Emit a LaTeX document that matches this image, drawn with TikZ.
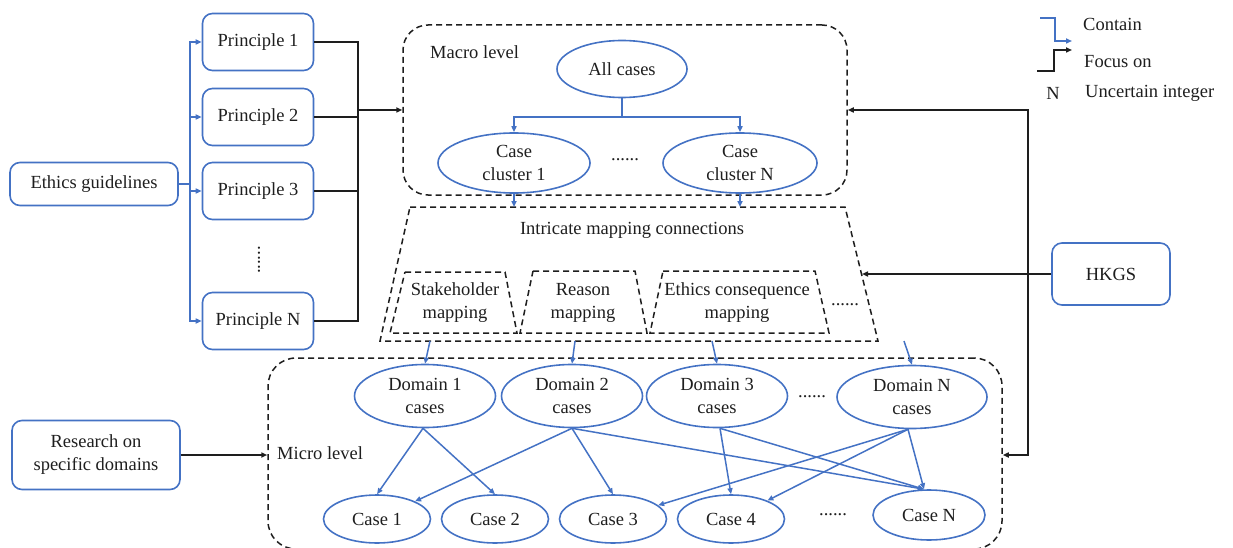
\documentclass[tikz,border=0pt]{standalone}
\usepackage{fontspec}
\setmainfont{Liberation Serif}
\usetikzlibrary{shapes.geometric,arrows.meta}
\definecolor{cblue}{RGB}{68,114,196}
\definecolor{ink}{RGB}{30,30,30}

\tikzset{
  every node/.style={font=\fontsize{18.5}{23}\selectfont, text=ink, inner sep=0pt},
  bluebox/.style={draw=cblue, line width=1.6pt, rounded corners=10pt, align=center},
  pbox/.style={bluebox, minimum width=111pt, minimum height=57pt},
  blueell/.style={draw=cblue, line width=1.6pt, ellipse, align=center},
  caseell/.style={blueell, minimum width=107pt, minimum height=48pt},
  domell/.style={blueell, minimum width=141pt, minimum height=63pt},
  tipstyle/.style={-{Triangle[length=6pt,width=5pt]}},
  contain/.style={draw=cblue, line width=1.5pt},
  focus/.style={draw=ink, line width=1.5pt},
  frame/.style={draw=ink, line width=1.5pt, dash pattern=on 6pt off 4pt},
}

\begin{document}
\begin{tikzpicture}[x=1pt, y=-1pt]
\useasboundingbox (0,0) rectangle (1233,548);
\clip (0,0) rectangle (1233,548);

% ---------- left column ----------
\node[bluebox, minimum width=168pt, minimum height=43pt] (eg) at (94,184) {Ethics guidelines};
\node[pbox] (p1) at (258,42) {Principle 1};
\node[pbox] (p2) at (258,117) {Principle 2};
\node[pbox] (p3) at (258,191) {Principle 3};
\node[rotate=90] (pdots) at (259,260) {......};
\node[pbox] (pN) at (258,321) {Principle N};

\node[bluebox, minimum width=168pt, minimum height=69pt] (rsd) at (96,455) {Research on\\specific domains};

% ethics guidelines contain the principles
\coordinate (ej) at (190,184);
\draw[contain] (eg.east) -- (ej);
\foreach \p in {p1,p2,p3,pN}{
  \draw[contain, tipstyle] (ej) |- (\p.west);
}

% ---------- macro level ----------
\node[frame, rounded corners=25pt, minimum width=444pt, minimum height=170pt] (macro) at (625,110) {};
\node[anchor=west] (mlab) at (430,52) {Macro level};
\node[blueell, minimum width=130pt, minimum height=57pt] (allc) at (622,69) {All cases};
\node[blueell, minimum width=152pt, minimum height=60pt] (cl1) at (514,163) {Case\\cluster 1};
\node[blueell, minimum width=154pt, minimum height=60pt] (clN) at (740,163) {Case\\cluster N};
\node (cldots) at (625,160) {......};

\coordinate (acj) at (622,117);
\draw[contain] (allc.south) -- (acj);
\draw[contain, tipstyle] (acj) -| (cl1.north);
\draw[contain, tipstyle] (acj) -| (clN.north);

% principles focus on the macro level
\coordinate (pj) at (358,110);
\foreach \p in {p1,p2,p3,pN}{
  \draw[focus] (\p.east) -| (pj);
}
\draw[focus, tipstyle] (pj) -- (macro.west);

% ---------- mapping connections ----------
\draw[frame] (410,207) -- (845,207) -- (878,341) -- (380,341) -- cycle;
\node (imc) at (632,230) {Intricate mapping connections};

\draw[frame] (405,272) -- (505,272) -- (517,333) -- (390,333) -- cycle;
\node[align=center] (smap) at (455,303) {Stakeholder\\mapping};
\draw[frame] (533,271) -- (635,271) -- (647,333) -- (520,333) -- cycle;
\node[align=center] (rmap) at (583,303) {Reason\\mapping};
\draw[frame] (663,271) -- (815,271) -- (829,333) -- (650,333) -- cycle;
\node[align=center] (emap) at (737,303) {Ethics consequence\\mapping};
\node (mdots) at (845,305) {......};

\coordinate (ttop) at (0,207);
\draw[contain, tipstyle] (cl1.south) -- (cl1.south |- ttop);
\draw[contain, tipstyle] (clN.south) -- (clN.south |- ttop);

% ---------- micro level ----------
\node[frame, rounded corners=28pt, minimum width=734pt, minimum height=191pt] (micro) at (635,453.5) {};
\node[anchor=west] (milab) at (277,453) {Micro level};

\node[domell] (d1) at (425,396) {Domain 1\\cases};
\node[domell] (d2) at (572,396) {Domain 2\\cases};
\node[domell] (d3) at (717,396) {Domain 3\\cases};
\node (ddots) at (812,397) {......};
\node[domell, minimum width=150pt] (dN) at (912,397) {Domain N\\cases};

\node[caseell] (c1) at (377,519) {Case 1};
\node[caseell] (c2) at (495,519) {Case 2};
\node[caseell] (c3) at (613,519) {Case 3};
\node[caseell] (c4) at (731,519) {Case 4};
\node (cdots) at (833,515) {......};
\node[caseell, minimum width=112pt, minimum height=50pt] (cN) at (929,515) {Case N};

% mapping connections lead to the domains
\coordinate (mb1) at (430,341);
\coordinate (mb2) at (575,341);
\coordinate (mb3) at (712,341);
\coordinate (mbN) at (904,341);
\draw[contain, tipstyle] (mb1) -- (d1.north);
\draw[contain, tipstyle] (mb2) -- (d2.north);
\draw[contain, tipstyle] (mb3) -- (d3.north);
\draw[contain, tipstyle] (mbN) -- (dN.north);

% domains contain cases
\coordinate (cNin) at ([xshift=-5pt]cN.north);
\draw[contain, tipstyle] ([xshift=-2pt]d1.south) -- (c1.north);
\draw[contain, tipstyle] ([xshift=-2pt]d1.south) -- (c2.north);
\draw[contain, tipstyle] (d2.south) -- (c1);
\draw[contain, tipstyle] (d2.south) -- (c3.north);
\draw[contain, tipstyle] (d2.south) -- (cNin);
\draw[contain, tipstyle] ([xshift=3pt]d3.south) -- (c4.north);
\draw[contain, tipstyle] ([xshift=3pt]d3.south) -- (cNin);
\draw[contain, tipstyle] ([xshift=-4pt]dN.south) -- (c3);
\draw[contain, tipstyle] ([xshift=-4pt]dN.south) -- (c4);
\draw[contain, tipstyle] ([xshift=-4pt]dN.south) -- (cNin);

% research focuses on the micro level
\draw[focus, tipstyle] (rsd.east) -- (rsd.east -| micro.west);

% ---------- HKGS ----------
\node[bluebox, minimum width=118pt, minimum height=62pt] (hk) at (1111,274) {HKGS};
\coordinate (hj) at (1028,274);
\coordinate (tr) at (862,274);
\draw[focus, tipstyle] (hk.west) -- (tr);
\draw[focus, tipstyle] (hj) |- (macro.east);
\draw[focus, tipstyle] (hj) |- (micro.east |- rsd.east);

% ---------- legend ----------
\coordinate (lc1) at (1040,18);
\coordinate (lc2) at (1072,41);
\draw[contain, tipstyle] (lc1) -| (1055,41) -- (lc2);
\node[anchor=west] (lcont) at (1083,24) {Contain};
\coordinate (lf1) at (1037,71);
\coordinate (lf2) at (1072,50);
\draw[focus, tipstyle] (lf1) -| (1054,50) -- (lf2);
\node[anchor=west] (lfoc) at (1084,62) {Focus on};
\node (lN) at (1053,93) {N};
\node[anchor=west] (lunc) at (1085,93) {Uncertain integer};
\end{tikzpicture}
\end{document}
